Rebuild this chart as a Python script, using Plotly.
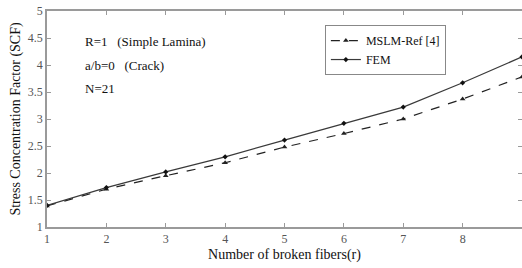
import plotly.graph_objects as go

broken_fibers = [1, 2, 3, 4, 5, 6, 7, 8, 9]
scf_mslm = [1.39, 1.70, 1.95, 2.19, 2.48, 2.73, 3.00, 3.37, 3.78]
scf_fem = [1.40, 1.73, 2.02, 2.30, 2.61, 2.92, 3.22, 3.67, 4.15]
x_ticks = [1, 2, 3, 4, 5, 6, 7, 8, 9]
y_ticks = [1, 1.5, 2, 2.5, 3, 3.5, 4, 4.5, 5]
y_tick_text = ["1", "1.5", "2", "2.5", "3", "3.5", "4", "4.5", "5"]

FONT = "Liberation Serif"

fig = go.Figure()
fig.add_trace(go.Scatter(
    x=broken_fibers, y=scf_mslm, name="MSLM-Ref [4]", mode="lines+markers",
    line=dict(color="#222222", width=1.2, dash="dash"),
    marker=dict(symbol="triangle-up", size=5, color="#222222"),
))
fig.add_trace(go.Scatter(
    x=broken_fibers, y=scf_fem, name="FEM", mode="lines+markers",
    line=dict(color="#3a3a3a", width=1.2),
    marker=dict(symbol="diamond", size=4, color="#111111"),
))

axis_common = dict(
    showline=True, linecolor="#9a9a9a", linewidth=1.5, mirror="ticks",
    ticks="inside", ticklen=4, tickcolor="#9a9a9a", showgrid=False, zeroline=False,
    tickfont=dict(family=FONT, size=12, color="#555555"), automargin=False,
)

fig.update_layout(
    width=522, height=268,
    margin=dict(l=47, r=0, t=11, b=41, pad=0),
    paper_bgcolor="white", plot_bgcolor="white",
    font=dict(family=FONT, color="#111111"),
    xaxis=dict(range=[1, 9], tickvals=x_ticks,
               title=dict(text="Number of broken fibers(r)", font=dict(family=FONT, size=14, color="#111111"), standoff=4),
               **axis_common),
    yaxis=dict(range=[1, 5], tickvals=y_ticks, ticktext=y_tick_text,
               title=dict(text="Stress Concentration Factor (SCF)", font=dict(family=FONT, size=14, color="#111111"), standoff=4),
               **axis_common),
    legend=dict(x=0.585, y=0.935, xanchor="left", yanchor="top",
                bordercolor="#888888", borderwidth=1, bgcolor="white",
                font=dict(family=FONT, size=12, color="#111111"),
                tracegroupgap=0, itemwidth=30),
    showlegend=True,
)

notes = ["R=1   (Simple Lamina)", "a/b=0   (Crack)", "N=21"]
note_y = [4.43, 3.99, 3.56]
for t, yv in zip(notes, note_y):
    fig.add_annotation(x=0.075, xref="paper", y=yv, yref="y", text=t, showarrow=False,
                       xanchor="left", yanchor="middle",
                       font=dict(family=FONT, size=13, color="#111111"))

fig.write_html("out.html", config={"displayModeBar": False},
               post_script="document.body.style.margin='0';document.body.style.padding='0';")
